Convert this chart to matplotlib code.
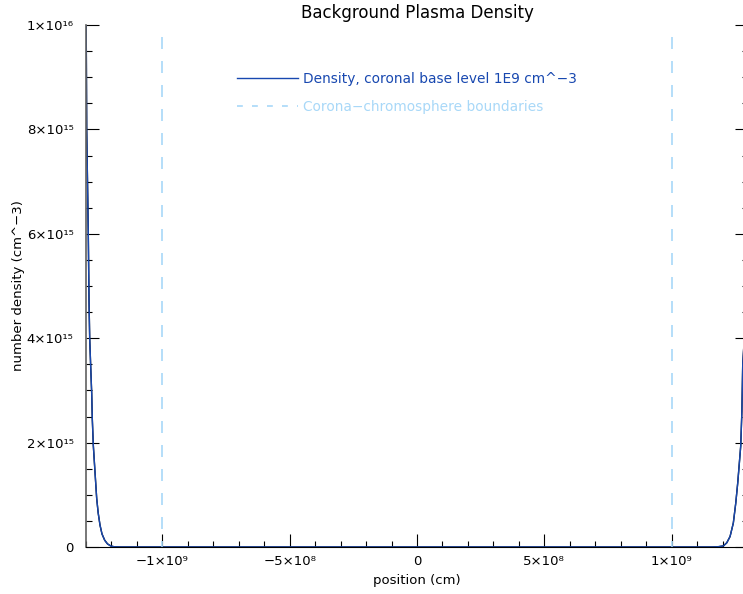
import numpy as np
import matplotlib.pyplot as plt
from matplotlib.ticker import MultipleLocator, FuncFormatter

# density profile (position in 1e9 cm, density in 1e15 cm^-3)
left_pos = [-1.2992, -1.2973, -1.2941, -1.2910, -1.2882, -1.2855, -1.2815,
            -1.2776, -1.2753, -1.2713, -1.2647, -1.2580, -1.2521, -1.2450,
            -1.2372, -1.2266, -1.2156, -1.2030, -1.1900, -1.1665, -1.10]
left_dens = [10.0, 8.0, 7.0, 6.0, 4.73, 4.0, 3.45,
             2.94, 2.46, 1.95, 1.44, 0.93, 0.65, 0.42,
             0.25, 0.13, 0.06, 0.02, 0.005, 0.0, 0.0]
mid_pos = [-1.0, -0.5, 0.0, 0.5, 1.0]
mid_dens = [0.0, 0.0, 0.0, 0.0, 0.0]
right_pos = [1.10, 1.1587, 1.1823, 1.2032, 1.2165, 1.2295, 1.2424, 1.2519,
             1.2597, 1.2715, 1.2760, 1.2793, 1.2855, 1.2910, 1.2972, 1.2992]
right_dens = [0.0, 0.0, 0.005, 0.02, 0.08, 0.2, 0.46, 0.84,
              1.23, 1.94, 2.6, 3.5, 4.0, 6.0, 8.0, 10.0]
boundaries = [-1.0, 1.0]

pos = np.array(left_pos + mid_pos + right_pos) * 1e9
dens = np.array(left_dens + mid_dens + right_dens) * 1e15

supers = str.maketrans('0123456789-', '⁰¹²³⁴⁵⁶⁷⁸⁹⁻')

def sci_fmt(v, _):
    if v == 0:
        return '0'
    e = int(np.floor(np.log10(abs(v)) + 1e-9))
    m = v / 10**e
    sign = '−' if m < 0 else ''
    return f'{sign}{abs(m):.0f}×10' + str(e).translate(supers)

fig = plt.figure(figsize=(7.43, 5.94), dpi=100)
ax = fig.add_axes([86/743, 47/594, 662/743, 522/594])

blue = '#1848b0'
lightblue = '#a8d8f8'

ax.plot(pos, dens, color='black', lw=1.0)
ax.plot(pos, dens, color=blue, lw=1.0, label='Density, coronal base level 1E9 cm^−3')
for b in boundaries:
    ax.axvline(b * 1e9, color=lightblue, lw=1.2, ls=(3.6, (7.2, 7.2)))
ax.plot([], [], color=lightblue, lw=1.2, ls=(0, (3.5, 5.5)), label='Corona−chromosphere boundaries')

ax.set_xlim(-1.3e9, 1.3e9)
ax.set_ylim(0, 1e16)
ax.xaxis.set_major_locator(MultipleLocator(5e8))
ax.xaxis.set_minor_locator(MultipleLocator(1e8))
ax.yaxis.set_major_locator(MultipleLocator(2e15))
ax.yaxis.set_minor_locator(MultipleLocator(5e14))
ax.xaxis.set_major_formatter(FuncFormatter(sci_fmt))
ax.yaxis.set_major_formatter(FuncFormatter(sci_fmt))
ax.tick_params(which='both', direction='in', right=True, top=False,
               labelsize=9.5, width=0.8)
ax.tick_params(axis='y', pad=9)
ax.tick_params(axis='x', pad=6)
ax.tick_params(which='major', length=9.5)
ax.tick_params(which='minor', length=4.5)
ax.spines['top'].set_visible(False)
ax.spines['left'].set_color('#606060')
ax.spines['left'].set_linewidth(1.2)

ax.set_title('Background Plasma Density', fontsize=12, pad=5)
ax.set_xlabel('position (cm)', fontsize=9.5, labelpad=4)
ax.set_ylabel('number density (cm^−3)', fontsize=9.5)
ax.yaxis.set_label_coords(-(86 - 25) / 662, 0.5)

leg = ax.legend(loc='upper left', bbox_to_anchor=(0.209, 0.934), frameon=False,
                fontsize=9.9, handlelength=4.45, handletextpad=0.4, labelspacing=1.05,
                labelcolor=[blue, lightblue])

fig.savefig('out.png', dpi=100)
